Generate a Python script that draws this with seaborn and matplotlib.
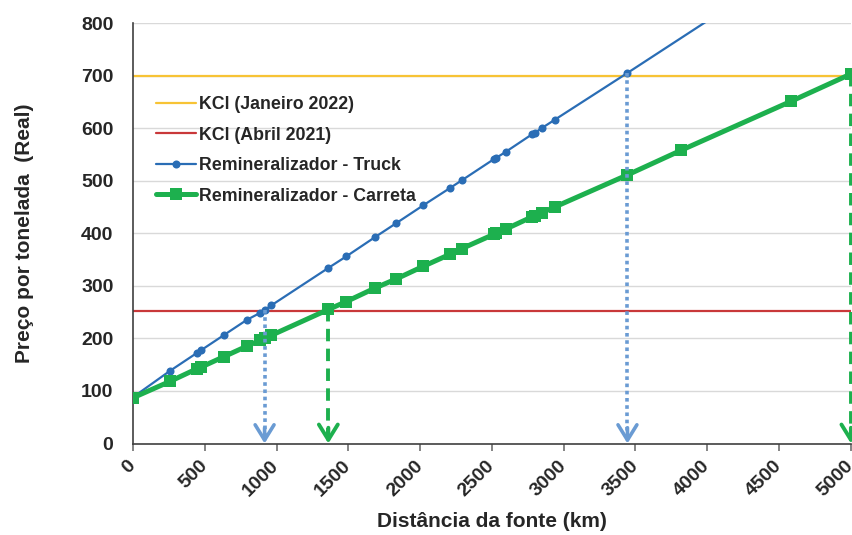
import matplotlib
matplotlib.use("Agg")
import matplotlib.pyplot as plt
import seaborn as sns
import pandas as pd

# Distances (km) of the evaluated sources and the delivered price per tonne (R$)
carreta_km = [0, 257, 444, 472, 632, 792, 882, 917, 965, 1361, 1486, 1688, 1833,
              2021, 2208, 2292, 2514, 2528, 2597, 2778, 2799, 2847, 2938, 3444,
              3819, 4583, 5000]
carreta_price = [87, 118, 142, 145, 165, 185, 196, 200, 206, 255, 270, 296, 313,
                 337, 360, 371, 398, 400, 408, 431, 433, 439, 450, 511,
                 558, 651, 703]

truck_km = [0, 257, 444, 472, 632, 792, 882, 917, 965, 1361, 1486, 1688, 1833,
            2021, 2208, 2292, 2514, 2528, 2597, 2778, 2799, 2847, 2938, 3444, 5000]
truck_price = [88, 138, 172, 177, 206, 235, 248, 254, 263, 334, 356, 393, 419,
               453, 486, 501, 541, 543, 555, 588, 591, 600, 616, 705, 982]

# Reference KCl prices
kcl_jan2022 = 700
kcl_abr2021 = 253

# Break-even distances (km) and the price level each arrow starts from
truck_breakeven_km = [917, 3444]
truck_breakeven_price = [254, 705]
carreta_breakeven_km = [1361, 5000]
carreta_breakeven_price = [255, 703]

x_ticks = [0, 500, 1000, 1500, 2000, 2500, 3000, 3500, 4000, 4500, 5000]
y_ticks = [0, 100, 200, 300, 400, 500, 600, 700, 800]

sns.set_style("white")
plt.rcParams["font.family"] = ["Liberation Sans", "DejaVu Sans"]
plt.rcParams["font.weight"] = "bold"

YELLOW = "#f7c335"
RED = "#c9383a"
BLUE = "#2a6db5"
GREEN = "#1db04e"
ARROW_BLUE = "#6a9bd3"

fig = plt.figure(figsize=(8.52, 5.35), dpi=100)
ax = fig.add_axes([0.156, 0.171, 0.8427, 0.786])

truck_df = pd.DataFrame({"km": truck_km, "preco": truck_price})
carreta_df = pd.DataFrame({"km": carreta_km, "preco": carreta_price})

ax.axhline(kcl_jan2022, color=YELLOW, lw=1.6, label="KCl (Janeiro 2022)", zorder=2)
ax.axhline(kcl_abr2021, color=RED, lw=1.6, label="KCl (Abril 2021)", zorder=2)

sns.lineplot(data=truck_df, x="km", y="preco", ax=ax, color=BLUE, lw=1.6,
             marker="o", markersize=5.8, markeredgewidth=0, sort=False,
             label="Remineralizador - Truck", zorder=3)
sns.lineplot(data=carreta_df, x="km", y="preco", ax=ax, color=GREEN, lw=3.6,
             marker="s", markersize=8, markeredgewidth=0, sort=False,
             label="Remineralizador - Carreta", zorder=4)

# Vertical arrows down to the break-even distance on the x axis
def drop_arrow(x, y, color, dashes, lw):
    ax.plot([x, x], [y, 6], color=color, lw=lw, dashes=dashes,
            solid_capstyle="butt", dash_capstyle="butt", zorder=5, clip_on=False)
    ax.annotate("", xy=(x, 0), xytext=(x, 30),
                arrowprops=dict(arrowstyle="->,head_length=0.55,head_width=0.34",
                                color=color, lw=lw, shrinkA=0, shrinkB=0,
                                mutation_scale=20),
                zorder=6, annotation_clip=False)

for xk, yk in zip(truck_breakeven_km, truck_breakeven_price):
    drop_arrow(xk, yk, ARROW_BLUE, (1.0, 1.0), 2.6)
for xk, yk in zip(carreta_breakeven_km, carreta_breakeven_price):
    drop_arrow(xk, yk, GREEN, (3.2, 1.9), 2.8)

ax.set_xlim(0, 5000)
ax.set_ylim(0, 800)
ax.set_xticks(x_ticks)
ax.set_yticks(y_ticks)
ax.set_xticklabels([str(v) for v in x_ticks], rotation=45, ha="right",
                   va="center", rotation_mode="anchor", fontsize=14, fontweight="bold")
ax.set_yticklabels([str(v) for v in y_ticks], fontsize=14, fontweight="bold")

ax.yaxis.grid(True, color="#d9d9d9", lw=1.0, zorder=0)
ax.xaxis.grid(False)
ax.set_axisbelow(True)
for side in ("top", "right"):
    ax.spines[side].set_visible(False)
for side in ("left", "bottom"):
    ax.spines[side].set_color("#404040")
    ax.spines[side].set_linewidth(1.2)

ax.tick_params(axis="x", direction="out", length=5, width=1.2, color="#707070",
               pad=9, bottom=True)
ax.tick_params(axis="y", length=0, pad=14)

ax.set_xlabel("Distância da fonte (km)", fontsize=15, fontweight="bold", labelpad=9)
ax.set_ylabel("Preço por tonelada  (Real)", fontsize=15, fontweight="bold", labelpad=34)

leg = ax.legend(loc="upper left", bbox_to_anchor=(0.032, 0.826), frameon=False,
                fontsize=12.8, handlelength=2.25, handletextpad=0.15,
                labelspacing=0.76, borderaxespad=0, borderpad=0)
for t in leg.get_texts():
    t.set_fontweight("bold")

fig.savefig("out.png", dpi=100)
